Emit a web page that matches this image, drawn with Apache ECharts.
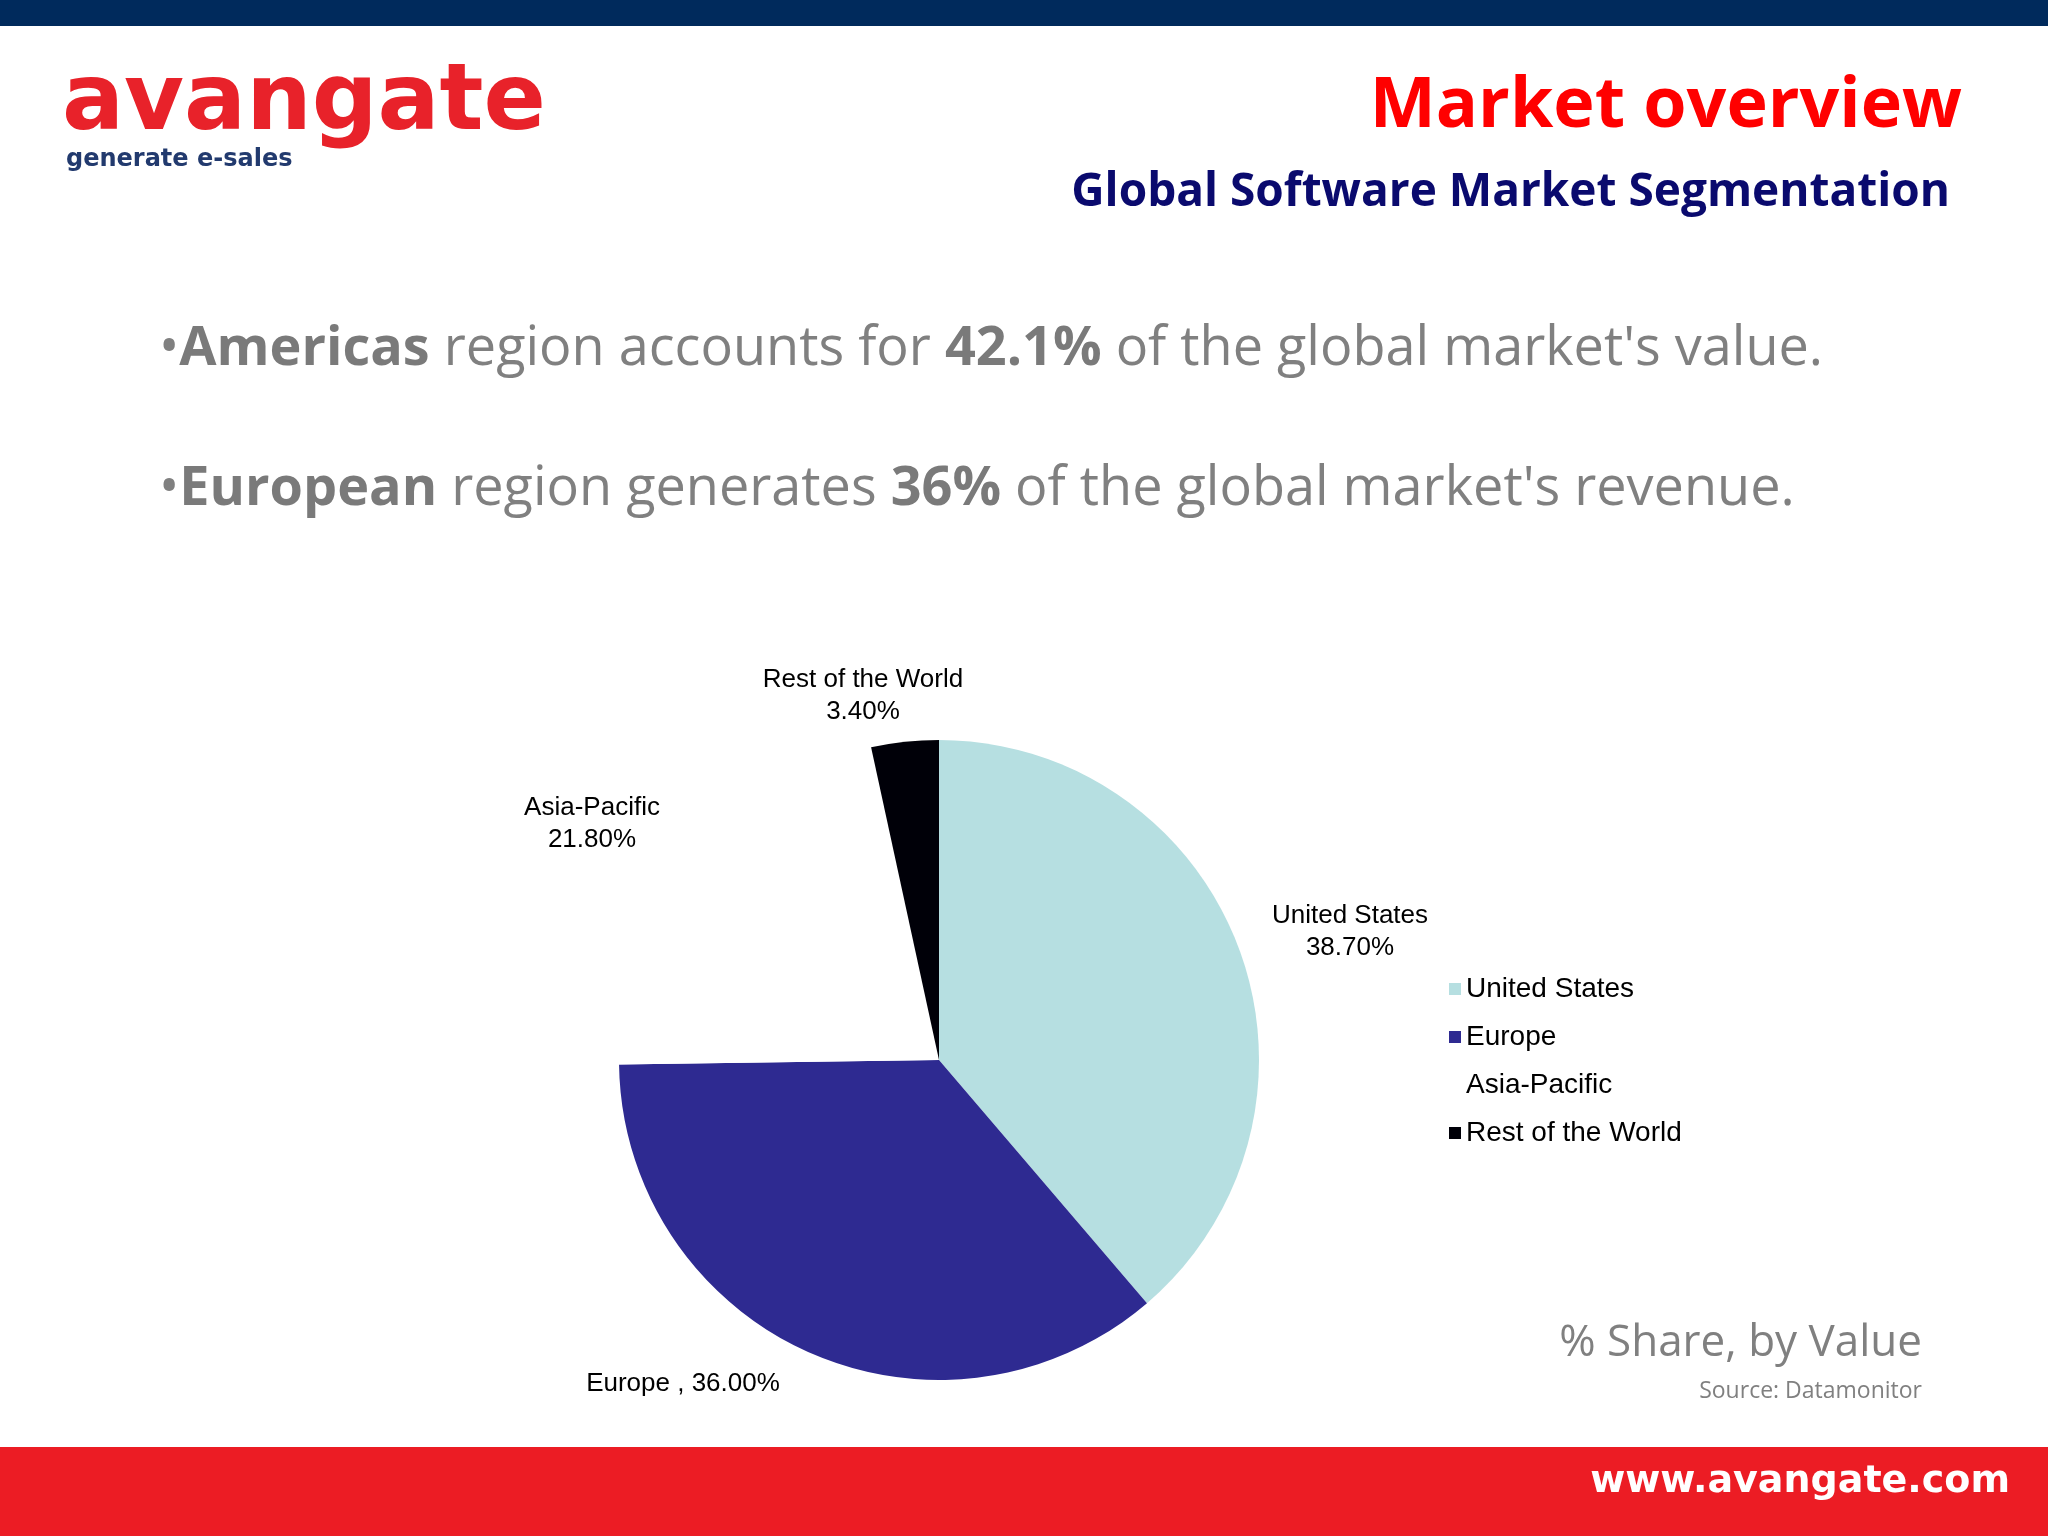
<!DOCTYPE html>
<html lang="en">
  <head>
    <meta charset="UTF-8" />
    <title>Market overview</title>
    <style>
      html, body { width: 100%; height: 100%; margin: 0; overflow: hidden; background: #fff; }
      #main { width: 2048px; height: 1536px; }
    </style>
  </head>
  <body>
    <div id="main"></div>
    <script src="https://cdn.jsdelivr.net/npm/echarts@6/dist/echarts.min.js"></script>
    <script>
      // data
      const regions = ["United States", "Europe", "Asia-Pacific", "Rest of the World"];
      const shares = [38.7, 36.0, 21.8, 3.4];
      const colors = ["#b6dfe1", "#2e2a91", "#ffffff", "#000008"];
      // label positions (center of text block)
      const labelPos = [[1350, 932], [683, 1384], [592, 824], [863, 696]];

      const sans = "Open Sans";
      const arial = "Liberation Sans";

      const labels = regions.map((name, i) => {
        const txt = i === 1
          ? name + " , " + shares[i].toFixed(2) + "%"
          : name + "\n" + shares[i].toFixed(2) + "%";
        return {
          type: "text",
          x: labelPos[i][0],
          y: labelPos[i][1],
          style: {
            text: txt,
            font: "26px '" + arial + "'",
            fill: "#000",
            align: "center",
            verticalAlign: "middle",
            lineHeight: 32,
          },
        };
      });

      const option = {
        backgroundColor: "#fff",
        animation: false,
        legend: {
          orient: "vertical",
          left: 1444,
          top: 970,
          itemWidth: 12,
          itemHeight: 12,
          itemGap: 20,
          icon: "rect",
          textStyle: { fontFamily: arial, fontSize: 28, color: "#000" },
          data: regions,
        },
        series: [
          {
            type: "pie",
            center: [939, 1060],
            radius: 320,
            startAngle: 90,
            clockwise: true,
            label: { show: false },
            labelLine: { show: false },
            itemStyle: { borderWidth: 0 },
            data: regions.map((name, i) => ({
              name,
              value: shares[i],
              itemStyle: { color: colors[i] },
            })),
          },
        ],
        graphic: [
          { type: "rect", shape: { x: 0, y: 0, width: 2048, height: 26 }, style: { fill: "#002a5c" } },
          { type: "rect", shape: { x: 0, y: 1447, width: 2048, height: 89 }, style: { fill: "#ec1c24" } },
          {
            type: "text", x: 62, y: 105,
            style: { text: "avangate", font: "bold 92px 'DejaVu Sans'", fill: "#e8222a", verticalAlign: "middle" },
          },
          {
            type: "text", x: 66, y: 160,
            style: { text: "generate e-sales", font: "bold 24px 'DejaVu Sans'", fill: "#223a6e", verticalAlign: "middle" },
          },
          {
            type: "text", x: 1962, y: 107,
            style: { text: "Market overview", font: "bold 70px '" + sans + "'", fill: "#ff0000", align: "right", verticalAlign: "middle" },
          },
          {
            type: "text", x: 1950, y: 193,
            style: { text: "Global Software Market Segmentation", font: "bold 46px '" + sans + "'", fill: "#0a0a6e", align: "right", verticalAlign: "middle" },
          },
          {
            type: "text", x: 159, y: 350,
            style: {
              text: "•{b|Americas} region accounts for {b|42.1%} of the global market's value.",
              font: "54px '" + sans + "'", fill: "#808080", verticalAlign: "middle",
              rich: { b: { fontWeight: "bold", fontSize: 54, fontFamily: sans, fill: "#7a7a7a" } },
            },
          },
          {
            type: "text", x: 159, y: 490,
            style: {
              text: "•{b|European} region generates {b|36%} of the global market's revenue.",
              font: "54px '" + sans + "'", fill: "#808080", verticalAlign: "middle",
              rich: { b: { fontWeight: "bold", fontSize: 54, fontFamily: sans, fill: "#7a7a7a" } },
            },
          },
          {
            type: "text", x: 1922, y: 1343,
            style: { text: "% Share, by Value", font: "44px '" + sans + "'", fill: "#808080", align: "right", verticalAlign: "middle" },
          },
          {
            type: "text", x: 1922, y: 1391,
            style: { text: "Source: Datamonitor", font: "23px '" + sans + "'", fill: "#808080", align: "right", verticalAlign: "middle" },
          },
          {
            type: "text", x: 2010, y: 1482,
            style: { text: "www.avangate.com", font: "bold 38px 'DejaVu Sans'", fill: "#ffffff", align: "right", verticalAlign: "middle" },
          },
        ].concat(labels),
      };

      const myChart = echarts.init(document.getElementById("main"));
      myChart.setOption(option);
    </script>
  </body>
</html>
